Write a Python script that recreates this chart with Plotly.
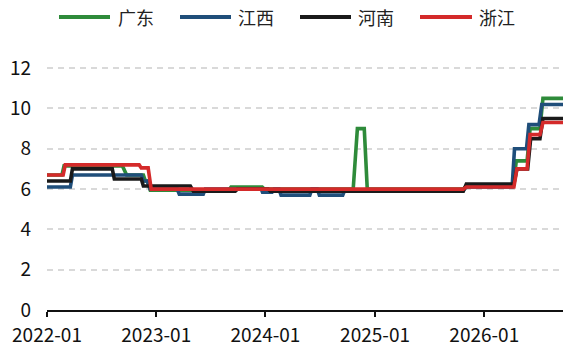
import plotly.graph_objects as go

# ---------------- data ----------------
gd_dates = ["2022-01-01", "2022-02-20", "2022-02-27", "2022-09-10", "2022-09-24", "2022-11-19",
            "2022-11-26", "2022-12-02", "2022-12-12", "2023-09-01", "2023-09-08", "2023-12-21",
            "2023-12-28", "2024-10-20", "2024-11-03", "2024-11-26", "2024-12-06", "2025-10-23",
            "2025-11-02", "2026-04-08", "2026-04-18", "2026-05-24", "2026-06-03", "2026-07-06",
            "2026-07-16", "2026-09-21"]
gd_vals = [6.7, 6.7, 7.15, 7.15, 6.7, 6.7,
           6.4, 6.4, 5.95, 5.95, 6.1, 6.1,
           6.0, 6.0, 9.0, 9.0, 6.0, 6.0,
           6.15, 6.15, 7.4, 7.4, 9.0, 9.0,
           10.5, 10.5]

jx_dates = ["2022-01-01", "2022-03-20", "2022-03-27", "2022-11-12", "2022-11-19", "2022-12-02",
            "2022-12-12", "2023-03-12", "2023-03-19", "2023-06-07", "2023-06-14", "2023-12-18",
            "2023-12-22", "2024-01-23", "2024-01-30", "2024-02-15", "2024-02-22", "2024-05-28",
            "2024-06-04", "2024-06-22", "2024-06-29", "2024-09-15", "2024-09-22", "2025-10-23",
            "2025-11-02", "2026-04-04", "2026-04-12", "2026-05-22", "2026-05-30", "2026-07-03",
            "2026-07-12", "2026-09-21"]
jx_vals = [6.1, 6.1, 6.7, 6.7, 6.4, 6.4,
           6.0, 6.0, 5.75, 5.75, 6.0, 6.0,
           5.85, 5.85, 6.0, 6.0, 5.7, 5.7,
           6.0, 6.0, 5.7, 5.7, 5.95, 5.95,
           6.1, 6.1, 8.0, 8.0, 9.2, 9.2,
           10.2, 10.2]

hn_dates = ["2022-01-01", "2022-03-20", "2022-03-27", "2022-08-07", "2022-08-14", "2022-11-12",
            "2022-11-19", "2023-04-25", "2023-05-05", "2023-09-22", "2023-09-29", "2024-01-10",
            "2024-01-17", "2025-10-23", "2025-11-02", "2026-04-10", "2026-04-20", "2026-05-26",
            "2026-06-05", "2026-07-06", "2026-07-16", "2026-09-21"]
hn_vals = [6.4, 6.4, 7.0, 7.0, 6.5, 6.5,
           6.15, 6.15, 5.9, 5.9, 6.0, 6.0,
           5.9, 5.9, 6.25, 6.25, 7.0, 7.0,
           8.5, 8.5, 9.5, 9.5]

zj_dates = ["2022-01-01", "2022-02-24", "2022-03-03", "2022-11-05", "2022-11-12", "2022-12-05",
            "2022-12-15", "2025-10-23", "2025-11-02", "2026-04-10", "2026-04-20", "2026-05-24",
            "2026-06-03", "2026-07-06", "2026-07-16", "2026-09-21"]
zj_vals = [6.7, 6.7, 7.2, 7.2, 7.05, 7.05,
           6.0, 6.0, 6.1, 6.1, 7.0, 7.0,
           8.7, 8.7, 9.3, 9.3]

series_names = ["广东", "江西", "河南", "浙江"]
series_colors = ["#2E8B3A", "#1F4E7A", "#1A1A1A", "#D42A2A"]
series_dates = [gd_dates, jx_dates, hn_dates, zj_dates]
series_vals = [gd_vals, jx_vals, hn_vals, zj_vals]

x_ticks = ["2022-01-01", "2023-01-01", "2024-01-01", "2025-01-01", "2026-01-01"]
x_ticktext = ["2022-01", "2023-01", "2024-01", "2025-01", "2026-01"]
y_ticks = [0, 2, 4, 6, 8, 10, 12]

# ---------------- figure ----------------
W, H = 563, 347
L, R, T, B = 47, 0, 48, 37
pw, ph = W - L - R, H - T - B

fig = go.Figure()
for name, col, d, v in zip(series_names, series_colors, series_dates, series_vals):
    fig.add_trace(go.Scatter(x=d, y=v, mode="lines", name=name, showlegend=False,
                             line=dict(color=col, width=3.6)))

# custom legend (long line samples like the reference)
leg_y_px = 17
leg_items = [(59, 110, 116), (180, 231, 236), (300, 351, 356), (420, 472, 477)]
shapes = []
annotations = []
for (x0, x1, tx), name, col in zip(leg_items, series_names, series_colors):
    yp = (H - B - leg_y_px) / ph
    shapes.append(dict(type="line", xref="paper", yref="paper",
                       x0=(x0 - L) / pw, x1=(x1 - L) / pw, y0=yp, y1=yp,
                       line=dict(color=col, width=4)))
    annotations.append(dict(xref="paper", yref="paper", x=(tx - L) / pw, y=yp,
                            xanchor="left", yanchor="middle", showarrow=False,
                            text=name, font=dict(family="Noto Sans CJK SC", size=18, color="#222")))

fig.update_layout(
    width=W, height=H,
    margin=dict(l=L, r=R, t=T, b=B, pad=0, autoexpand=False),
    paper_bgcolor="white", plot_bgcolor="white",
    font=dict(family="Noto Sans CJK SC", size=19, color="#111"),
    shapes=shapes, annotations=annotations,
    showlegend=False,
)
fig.update_xaxes(
    type="date", range=["2022-01-01", "2026-09-21"],
    tickvals=x_ticks, ticktext=x_ticktext,
    showgrid=False, zeroline=False, automargin=False,
    showline=True, linecolor="#111", linewidth=1.5,
    ticks="outside", ticklen=5, tickwidth=1.5, tickcolor="#111",
    ticklabelstandoff=2,
    tickfont=dict(family="Noto Sans CJK SC", size=19, color="#111"),
)
fig.update_yaxes(
    range=[0, 13], tickvals=y_ticks,
    showgrid=True, gridcolor="#D9D9D9", gridwidth=1.5, griddash="6px,5px",
    zeroline=False, showline=False, ticks="", automargin=False,
    ticklabelstandoff=15,
    tickfont=dict(family="Noto Sans CJK SC", size=19, color="#111"),
)

fig.write_html("out.html")
